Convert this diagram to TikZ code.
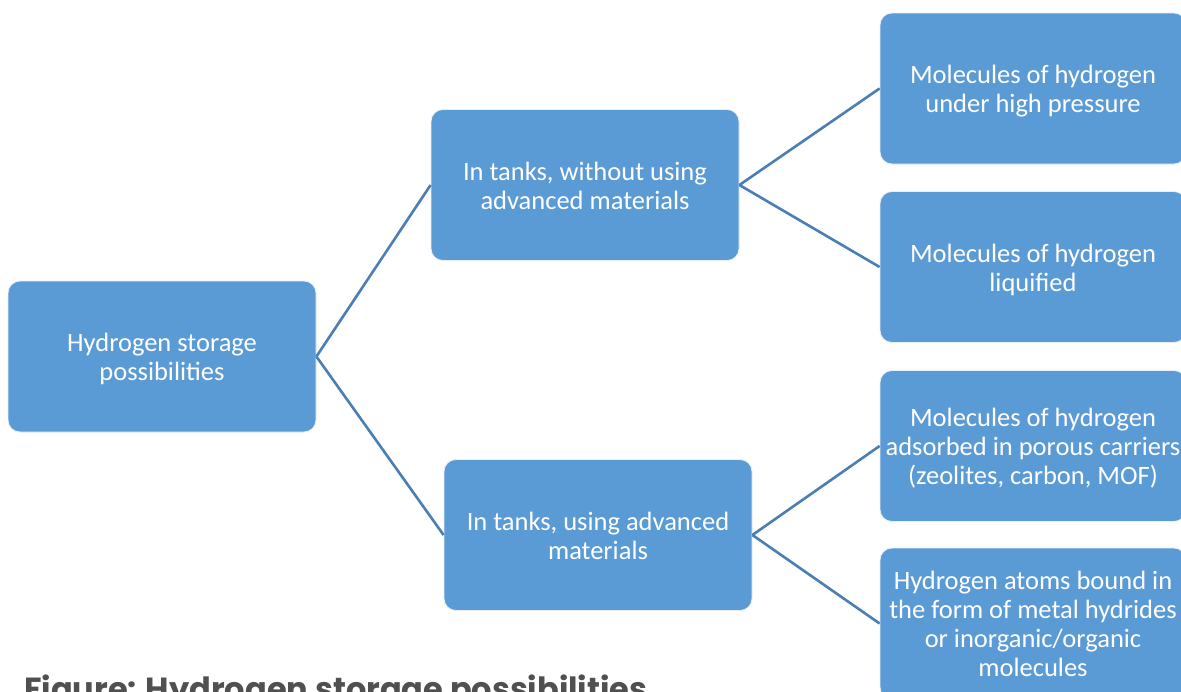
\documentclass[tikz,border=0pt]{standalone}
\usepackage{fontspec}
\setmainfont{Carlito}
\newfontfamily\captionfont{Poppins}
\definecolor{boxblue}{HTML}{5B9BD5}
\definecolor{linkblue}{HTML}{4A7EB5}
\definecolor{capgrey}{HTML}{505050}
% centred multi-line box text, drawn a little below the middle of its box
\newcommand\boxlines[1]{\raisebox{-4pt}[\height][\depth]{\begin{tabular}{@{}c@{}}#1\end{tabular}}}
\tikzset{
  stagebox/.style={draw=white!85!boxblue, line width=0.8pt, fill=boxblue, rounded corners=12pt,
    minimum width=308pt, minimum height=151pt, text=white,
    font=\fontsize{26.5}{29}\selectfont, inner sep=0pt},
  link/.style={draw=linkblue, line width=2.6pt}
}
\begin{document}
\begin{tikzpicture}[x=1pt,y=-1pt]
  \useasboundingbox (0,0) rectangle (1181,691);
  \begin{scope}
  \clip (0,0) rectangle (1181,691);
  % root
  \node[stagebox] (root) at (162,356.5) {\boxlines{Hydrogen storage\\possibilities}};
  % second level
  \node[stagebox] (tank) at (585,185) {\boxlines{In tanks, without using\\advanced materials}};
  \node[stagebox] (adv) at (598,535) {\boxlines{In tanks, using advanced\\materials}};
  % leaves
  \node[stagebox, minimum width=306pt] (press) at (1033,88.5) {\boxlines{Molecules of hydrogen\\under high pressure}};
  \node[stagebox, minimum width=306pt] (liq) at (1033,267) {\boxlines{Molecules of hydrogen\\liquified}};
  \node[stagebox, minimum width=306pt] (ads) at (1033,446) {\boxlines{Molecules of hydrogen\\adsorbed in porous carriers\\(zeolites, carbon, MOF)}};
  \node[stagebox, minimum width=306pt] (hyd) at (1033,623.5) {\boxlines{Hydrogen atoms bound in\\the form of metal hydrides\\or inorganic/organic\\molecules}};
  % connectors
  \draw[link] (root.east) -- (tank.west);
  \draw[link] (root.east) -- (adv.west);
  \draw[link] (tank.east) -- (press.west);
  \draw[link] (tank.east) -- (liq.west);
  \draw[link] (adv.east) -- (ads.west);
  \draw[link] (adv.east) -- (hyd.west);
  % caption, running off the lower edge
  \node[anchor=base west, inner sep=0pt, text=capgrey, font=\captionfont\bfseries\fontsize{32}{38}\selectfont] (cap) at (24,700) {Figure: Hydrogen storage possibilities};
  \end{scope}
\end{tikzpicture}
\end{document}
